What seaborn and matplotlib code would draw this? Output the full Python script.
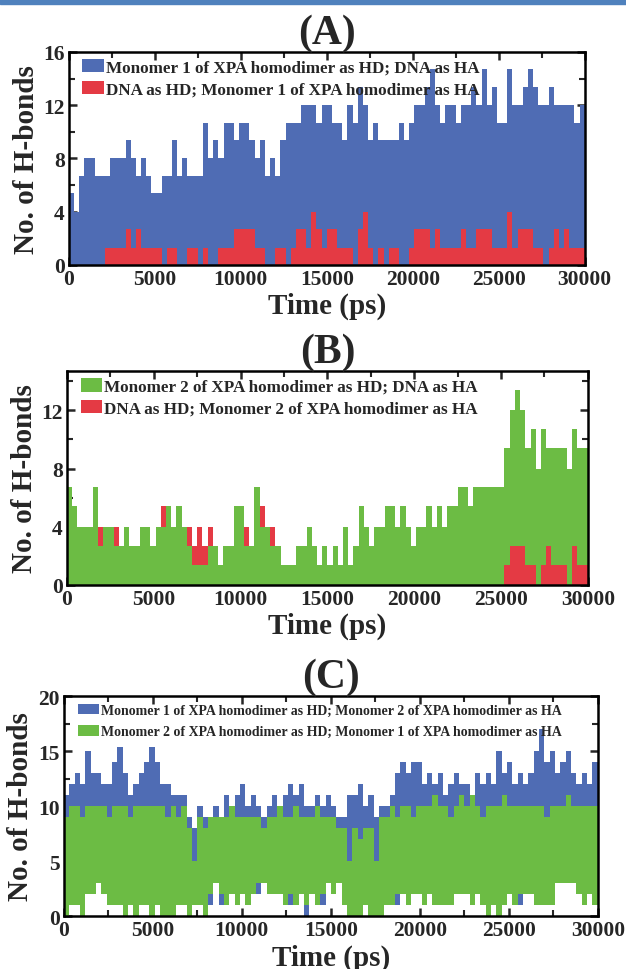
import numpy as np
import matplotlib.pyplot as plt
import seaborn as sns
from matplotlib.patches import Patch, Rectangle
from matplotlib.ticker import MultipleLocator

# ======================
# 1. DATA (H-bond envelopes, 300 ps bins, 0-30000 ps)
# ======================
bin_edges = np.arange(0, 30001, 300)

# (A) Monomer 1 <-> DNA
a_blue_top = [5.4, 4.0, 6.7, 8.0, 8.0, 6.7, 6.7, 6.7, 8.0, 8.0,
              8.0, 9.4, 8.0, 6.7, 8.0, 6.7, 5.4, 5.4, 6.7, 6.7,
              9.4, 6.7, 8.0, 6.7, 6.7, 6.7, 10.7, 8.0, 9.4, 8.0,
              10.7, 10.7, 9.4, 10.7, 10.7, 9.4, 8.0, 9.4, 6.7, 8.0,
              6.7, 9.4, 10.7, 10.7, 10.7, 12.0, 12.0, 12.0, 10.7, 12.0,
              12.0, 10.7, 10.7, 9.4, 12.0, 10.7, 13.4, 12.0, 9.4, 10.7,
              9.4, 9.4, 9.4, 9.4, 10.7, 9.4, 10.7, 12.0, 12.0, 13.4,
              14.7, 12.0, 10.7, 12.0, 12.0, 10.7, 12.0, 12.0, 13.4, 12.0,
              14.7, 12.0, 13.4, 10.7, 10.7, 14.7, 12.0, 12.0, 13.4, 14.7,
              13.4, 12.0, 12.0, 13.4, 12.0, 12.0, 12.0, 12.0, 10.7, 12.0]
a_red_top = [0, 0, 0, 0, 0, 0, 0, 1.3, 1.3, 1.3,
             1.3, 2.7, 1.3, 2.7, 1.3, 1.3, 1.3, 1.3, 0, 1.3,
             1.3, 0, 0, 1.3, 1.3, 0, 1.3, 0, 0, 1.3,
             1.3, 1.3, 2.7, 2.7, 2.7, 2.7, 1.3, 1.3, 0, 0,
             1.3, 1.3, 0, 1.3, 2.7, 2.7, 1.3, 4.0, 2.7, 1.3,
             2.7, 2.7, 1.3, 1.3, 1.3, 0, 2.7, 4.0, 1.3, 0,
             1.3, 0, 1.3, 1.3, 0, 0, 1.3, 2.7, 2.7, 2.7,
             1.3, 2.7, 1.3, 1.3, 1.3, 1.3, 2.7, 1.3, 1.3, 2.7,
             2.7, 2.7, 1.3, 1.3, 1.3, 4.0, 1.3, 2.7, 2.7, 2.7,
             1.3, 1.3, 0, 1.3, 2.7, 1.3, 2.7, 1.3, 1.3, 1.3]

# (B) Monomer 2 <-> DNA
b_green_top = [6.7, 5.4, 4.0, 4.0, 4.0, 6.7, 2.7, 4.0, 4.0, 2.7,
               2.7, 4.0, 2.7, 2.7, 4.0, 4.0, 2.7, 4.0, 4.0, 5.4,
               4.0, 5.4, 4.0, 2.7, 1.35, 1.35, 1.35, 2.7, 2.7, 1.35,
               2.7, 2.7, 5.4, 5.4, 2.7, 2.7, 6.7, 4.0, 4.0, 2.7,
               2.7, 1.35, 1.35, 1.35, 2.7, 2.7, 4.0, 2.7, 1.35, 2.7,
               1.35, 2.7, 1.35, 4.0, 1.35, 2.7, 5.4, 4.0, 2.7, 4.0,
               4.0, 5.4, 5.4, 4.0, 5.4, 4.0, 2.7, 4.0, 4.0, 5.4,
               4.0, 5.4, 4.0, 5.4, 5.4, 6.7, 6.7, 5.4, 6.7, 6.7,
               6.7, 6.7, 6.7, 6.7, 9.4, 12.0, 13.4, 12.0, 9.4, 10.7,
               8.0, 10.7, 9.4, 9.4, 9.4, 9.4, 8.0, 10.7, 9.4, 9.4]
b_green_bottom = [0, 0, 0, 0, 0, 0, 0, 0, 0, 0,
                  0, 0, 0, 0, 0, 0, 0, 0, 0, 0,
                  0, 0, 0, 0, 0, 0, 0, 0, 0, 0,
                  0, 0, 0, 0, 0, 0, 0, 0, 0, 0,
                  0, 0, 0, 0, 0, 0, 0, 0, 0, 0,
                  0, 0, 0, 0, 0, 0, 0, 0, 0, 0,
                  0, 0, 0, 0, 0, 0, 0, 0, 0, 0,
                  0, 0, 0, 0, 0, 0, 0, 0, 0, 0,
                  0, 0, 0, 0, 1.35, 2.7, 2.7, 2.7, 1.35, 1.35,
                  0, 1.35, 2.7, 1.35, 1.35, 1.35, 0, 2.7, 1.35, 1.35]
b_red_top = [0, 0, 0, 0, 0, 0, 4.0, 0, 0, 4.0,
             2.7, 0, 0, 0, 0, 0, 0, 0, 5.4, 0,
             0, 0, 0, 4.0, 2.7, 4.0, 2.7, 4.0, 0, 0,
             0, 0, 0, 0, 4.0, 0, 0, 5.4, 0, 4.0,
             0, 0, 0, 0, 0, 0, 0, 0, 0, 0,
             0, 0, 0, 0, 0, 0, 0, 0, 0, 0,
             0, 0, 0, 0, 0, 0, 0, 0, 0, 0,
             0, 0, 0, 0, 0, 0, 0, 1.35, 0, 1.35,
             1.35, 0, 0, 0, 1.35, 2.7, 2.7, 2.7, 1.35, 1.35,
             0, 1.35, 2.7, 2.7, 1.35, 1.35, 0, 2.7, 1.35, 1.35]

# (C) Monomer 1 <-> Monomer 2
c_blue_top = [11, 12, 13, 12, 15, 13, 13, 12, 12, 14,
              15.4, 13, 11, 12, 13, 14, 15.4, 14, 12, 12,
              11, 11, 11, 9, 8, 10, 9, 9, 10, 9,
              11, 10, 11, 12, 10, 11, 10, 9, 10, 11,
              10, 11, 12, 11, 12, 10, 10, 11, 10, 11,
              10, 9, 9, 11, 11, 12, 10, 11, 9, 10,
              10, 11, 13, 14, 13, 14, 14, 12, 13, 12,
              13, 11, 12, 13, 12, 12, 11, 13, 12, 13,
              12, 15, 13, 14, 12, 13, 12, 13, 15, 17,
              14, 15, 13, 14, 15, 13, 12, 13, 12, 14]
c_blue_bottom = [0, 1, 1, 0, 2, 2, 3, 2, 1, 1,
                 1, 0, 1, 0, 1, 1, 0, 1, 0, 0,
                 0, 1, 1, 0, 1, 1, 0, 1, 3, 1,
                 1, 2, 1, 2, 1, 2, 2, 3, 2, 2,
                 2, 1, 1, 1, 2, 0, 2, 1, 1, 3,
                 2, 3, 1, 0, 0, 0, 1, 0, 0, 0,
                 1, 1, 1, 2, 1, 2, 2, 1, 2, 1,
                 1, 1, 1, 2, 2, 2, 1, 2, 1, 0,
                 1, 0, 1, 2, 1, 1, 2, 2, 1, 1,
                 1, 1, 3, 3, 3, 3, 2, 1, 2, 1]
c_green_top = [9, 10, 10, 9, 10, 10, 10, 10, 9, 10,
               10, 10, 9, 10, 10, 10, 10, 10, 10, 9,
               10, 9, 10, 8, 5, 9, 8, 9, 9, 9,
               9, 10, 9, 9, 9, 9, 9, 8, 9, 9,
               10, 9, 9, 10, 9, 9, 9, 10, 9, 9,
               9, 8, 8, 5, 8, 7, 8, 8, 5, 9,
               9, 10, 9, 10, 10, 9, 10, 10, 10, 11,
               10, 10, 9, 10, 11, 10, 11, 10, 9, 10,
               10, 10, 11, 10, 10, 10, 10, 10, 10, 10,
               9, 10, 10, 10, 11, 10, 10, 10, 10, 10]
c_green_bottom = [0, 1, 1, 0, 2, 2, 3, 2, 1, 1,
                  1, 0, 1, 0, 1, 1, 0, 1, 0, 0,
                  0, 1, 1, 0, 1, 1, 0, 2, 3, 2,
                  1, 2, 1, 2, 1, 2, 3, 3, 2, 2,
                  2, 1, 2, 1, 2, 1, 2, 1, 2, 3,
                  2, 3, 1, 0, 0, 0, 1, 0, 0, 0,
                  1, 1, 2, 2, 1, 2, 2, 1, 2, 1,
                  1, 1, 1, 2, 2, 2, 1, 2, 1, 0,
                  1, 0, 1, 2, 1, 2, 2, 2, 1, 1,
                  1, 1, 3, 3, 3, 3, 2, 1, 2, 1]

BLUE, RED, GREEN = '#4f6cb4', '#e43a44', '#6cbc44'

# ======================
# 2. STYLE
# ======================
sns.set_style("ticks")
plt.rcParams['font.family'] = ['Liberation Serif', 'DejaVu Serif']
plt.rcParams['font.weight'] = 'bold'
plt.rcParams['axes.labelweight'] = 'bold'
plt.rcParams['axes.titleweight'] = 'bold'

fig = plt.figure(figsize=(6.26, 9.70), dpi=100)
fig.patches.append(Rectangle((0, 1 - 5 / 970), 1, 5 / 970, transform=fig.transFigure,
                             color='#4f81bd', zorder=0))


def setup_axis(ax, title, ymax, ymajor, labels, colors, legend_size, spacing):
    ax.set_xlim(0, 30000)
    ax.set_ylim(0, ymax)
    ax.xaxis.set_major_locator(MultipleLocator(5000))
    ax.xaxis.set_minor_locator(MultipleLocator(2500))
    ax.yaxis.set_major_locator(MultipleLocator(ymajor))
    ax.yaxis.set_minor_locator(MultipleLocator(ymajor / 2))
    ax.tick_params(which='both', direction='in', top=True, right=True, labelsize=15.5)
    ax.tick_params(which='major', length=6, width=1.8, pad=3)
    ax.tick_params(which='minor', length=4, width=1.5)
    for s in ax.spines.values():
        s.set_linewidth(1.8)
        s.set_color('black')
    ax.set_title(title, fontsize=30, pad=1)
    ax.set_ylabel('No. of H-bonds', fontsize=21)
    ax.set_xlabel('Time (ps)', fontsize=21)
    ax.yaxis.set_label_coords(-0.055, 0.5)
    ax.xaxis.set_label_coords(0.5, -0.125)
    handles = [Patch(facecolor=c, edgecolor='none') for c in colors]
    ax.legend(handles, labels, loc='upper left', bbox_to_anchor=(0.026, 0.965),
              frameon=False, borderpad=0, borderaxespad=0,
              handlelength=1.3 * 12 / legend_size, handleheight=0.8,
              handletextpad=0.1, labelspacing=spacing,
              prop={'size': legend_size, 'weight': 'bold'})


# ======================
# 3. PANEL A
# ======================
ax = fig.add_axes([0.110, 0.7258, 0.824, 0.2196])
ax.stairs(a_blue_top, bin_edges, baseline=0, fill=True, color=BLUE, lw=0)
ax.stairs(a_red_top, bin_edges, baseline=0, fill=True, color=RED, lw=0)
setup_axis(ax, '(A)', 16, 4,
           ['Monomer 1 of XPA homodimer as HD; DNA as HA',
            'DNA as HD; Monomer 1 of XPA homodimer as HA'],
           [BLUE, RED], 12.3, 0.3)

# ======================
# 4. PANEL B
# ======================
ax = fig.add_axes([0.107, 0.3959, 0.832, 0.2206])
ax.stairs(b_red_top, bin_edges, baseline=0, fill=True, color=RED, lw=0)
ax.stairs(b_green_top, bin_edges, baseline=b_green_bottom, fill=True, color=GREEN, lw=0)
setup_axis(ax, '(B)', 14.7, 4,
           ['Monomer 2 of XPA homodimer as HD; DNA as HA',
            'DNA as HD; Monomer 2 of XPA homodimer as HA'],
           [GREEN, RED], 12.3, 0.3)

# ======================
# 5. PANEL C
# ======================
ax = fig.add_axes([0.102, 0.0546, 0.853, 0.2268])
ax.stairs(c_blue_top, bin_edges, baseline=c_blue_bottom, fill=True, color=BLUE, lw=0)
ax.stairs(c_green_top, bin_edges, baseline=c_green_bottom, fill=True, color=GREEN, lw=0)
setup_axis(ax, '(C)', 20, 5,
           ['Monomer 1 of XPA homodimer as HD; Monomer 2 of XPA homodimer as HA',
            'Monomer 2 of XPA homodimer as HD; Monomer 1 of XPA homodimer as HA'],
           [BLUE, GREEN], 10, 0.6)

fig.savefig('out.png', dpi=100)
